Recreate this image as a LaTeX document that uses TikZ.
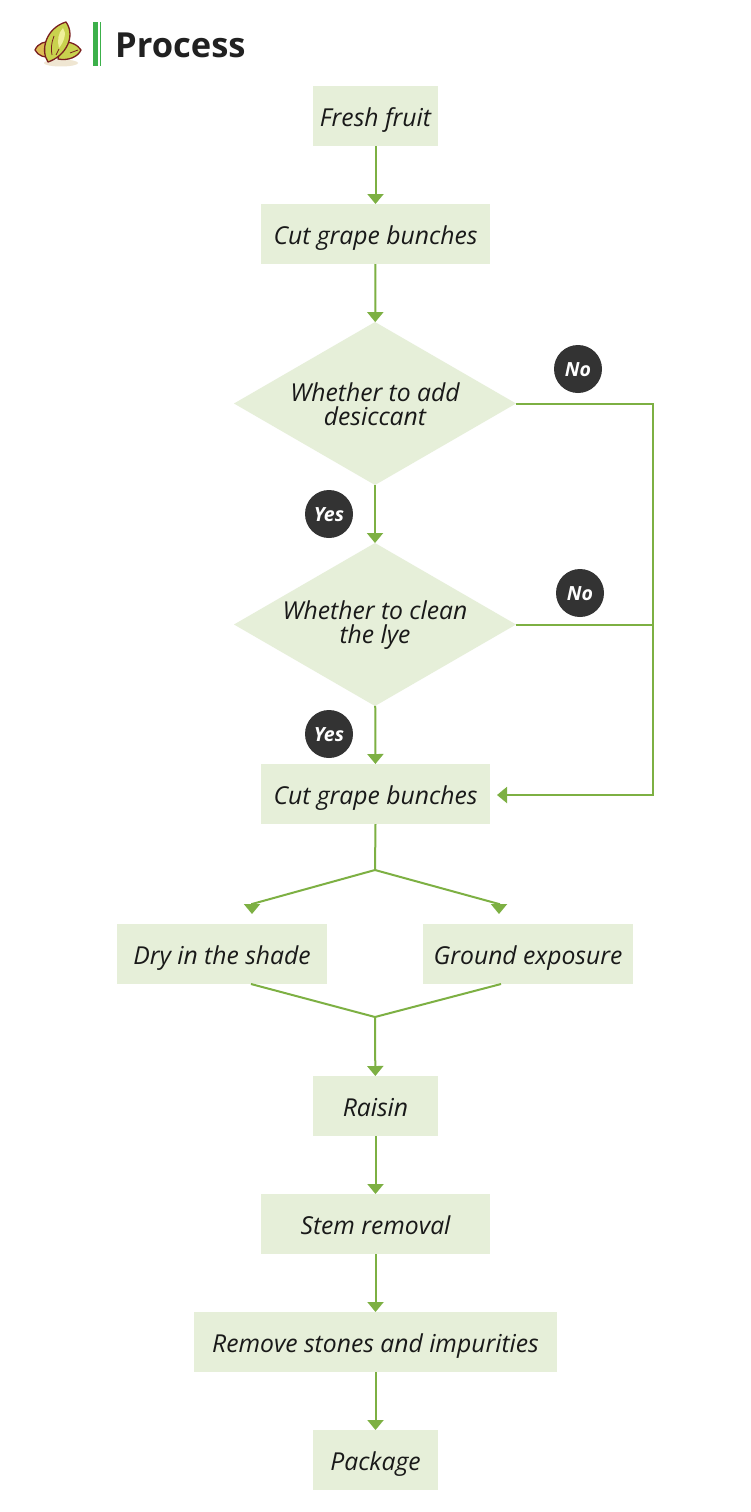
\documentclass[tikz,border=0pt]{standalone}
\usepackage{fontspec}
\setmainfont{Open Sans}
\usetikzlibrary{shapes.geometric,arrows.meta}
\definecolor{boxgreen}{HTML}{E6EFD9}
\definecolor{linegreen}{HTML}{7DB043}
\definecolor{bargreen}{HTML}{3CB04A}
\definecolor{badgegray}{HTML}{333333}
\definecolor{seedbrown}{HTML}{7A1F1F}
\definecolor{seedfill}{HTML}{C9D24E}
\definecolor{seedlight}{HTML}{EFEF9A}
\definecolor{seedlow}{HTML}{DDBB55}
\definecolor{seedshadow}{HTML}{EFE6D2}
\newcommand{\topstrut}{\rule{0pt}{20pt}}
\tikzset{
  stepbox/.style={fill=boxgreen,minimum height=60pt,inner sep=0pt,outer sep=0pt,
    text height=22pt,text depth=2pt,
    font=\fontsize{24.7}{24}\selectfont\itshape,text=black!90},
  choice/.style={diamond,fill=boxgreen,minimum width=282pt,minimum height=163pt,aspect=1.73,
    inner sep=0pt,outer sep=0pt,align=center,font=\fontsize{24.7}{24}\selectfont\itshape,text=black!90},
  badge/.style={circle,fill=badgegray,minimum size=48pt,inner sep=0pt,
    text height=15pt,text depth=0pt,
    font=\fontsize{19.5}{20}\selectfont\itshape\bfseries,text=white},
  plainline/.style={draw=linegreen,line width=2pt},
  flowline/.style={plainline,-{Triangle[width=16pt,length=10pt,fill=linegreen]}},
  seed/.style={draw=seedbrown,line width=1.3pt,line join=round},
}
\begin{document}
\begin{tikzpicture}[x=1pt,y=-1pt]
  \path[use as bounding box,fill=white] (0,0) rectangle (750,1512);

  % header
  \fill[seedshadow] (61,63) ellipse (17pt and 3.5pt);
  \draw[seed,fill=seedlow] (35,50) .. controls (38,43) and (45,41) .. (52,42) -- (52,57)
    .. controls (45,58) and (38,56) .. (35,50) -- cycle;
  \draw[seed,fill=seedfill] (62,42) .. controls (70,41) and (78,45) .. (81,50)
    .. controls (78,57) and (68,61) .. (58,59) -- cycle;
  \draw[seed,fill=seedfill] (66,22) .. controls (76,36) and (66,56) .. (48,62)
    .. controls (40,50) and (46,28) .. (66,22) -- cycle;
  \fill[seedlight] (63,28) .. controls (67,33) and (64,42) .. (59,48)
    .. controls (57,41) and (58,33) .. (63,28) -- cycle;
  \draw[seed,line width=0.8pt] (54,36) .. controls (51,43) and (51,50) .. (52,55);
  \draw[seed,line width=0.8pt] (59,49) -- (56,55);
  \draw[seed,line width=0.8pt] (70,53) -- (78,50);
  \fill[bargreen] (93,22) rectangle (98,66);
  \fill[bargreen] (99.6,22) rectangle (100.4,66);
  \node[anchor=west,inner sep=0pt,text=black!87,font=\fontsize{34.5}{36}\selectfont\bfseries] (title) at (115,45) {Process};

  % boxes
  \node[stepbox,minimum width=125pt] (fresh) at (375.5,116) {Fresh fruit};
  \node[stepbox,minimum width=229pt] (cutA) at (375.5,234) {Cut grape bunches};
  \node[choice] (addq) at (375,403.5) {\topstrut Whether to add\\desiccant};
  \node[choice] (lyeq) at (375,624.5) {\topstrut Whether to clean\\the lye};
  \node[stepbox,minimum width=229pt] (cutB) at (375.5,794) {Cut grape bunches};
  \node[stepbox,minimum width=210pt] (shade) at (222,954) {Dry in the shade};
  \node[stepbox,minimum width=210pt] (ground) at (528,954) {Ground exposure};
  \node[stepbox,minimum width=125pt] (raisin) at (375.5,1106) {Raisin};
  \node[stepbox,minimum width=229pt] (stem) at (375.5,1224) {Stem removal};
  \node[stepbox,minimum width=363pt] (stones) at (375.5,1342) {Remove stones and impurities};
  \node[stepbox,minimum width=125pt] (package) at (375.5,1460) {Package};

  % badges
  \node[badge] (noA) at (578,369) {No};
  \node[badge] (noB) at (580,593) {No};
  \node[badge] (yesA) at (329,514) {Yes};
  \node[badge] (yesB) at (329,734) {Yes};

  % straight arrows
  \foreach \a/\b in {fresh/cutA,cutA/addq,addq/lyeq,lyeq/cutB,raisin/stem,stem/stones,stones/package}
    \draw[flowline] (\a) -- (\b);

  % No branches
  \coordinate (railtop) at (653,404);
  \coordinate (railmid) at (653,625);
  \coordinate (railend) at (653,795);
  \coordinate (cutBin) at (497,795);
  \draw[flowline] (addq.east) ++(0,0.5) -- (railtop) -- (railend) -- (cutBin);
  \draw[plainline] (lyeq.east) ++(0,0.5) -- (railmid);

  % fork
  \coordinate (fork) at (375,870);
  \coordinate (shadebend) at (252,904);
  \coordinate (shadein) at (252,914);
  \coordinate (groundbend) at (499,904);
  \coordinate (groundin) at (499,914);
  \draw[plainline] (cutB.south) -- (fork);
  \draw[flowline] (fork) -- (shadebend) -- (shadein);
  \draw[flowline] (fork) -- (groundbend) -- (groundin);

  % merge
  \coordinate (shadeout) at (251,984);
  \coordinate (groundout) at (501,984);
  \coordinate (merge) at (375,1017);
  \draw[plainline] (shadeout) -- (merge) -- (groundout);
  \draw[flowline] (merge) -- (raisin);
\end{tikzpicture}
\end{document}
